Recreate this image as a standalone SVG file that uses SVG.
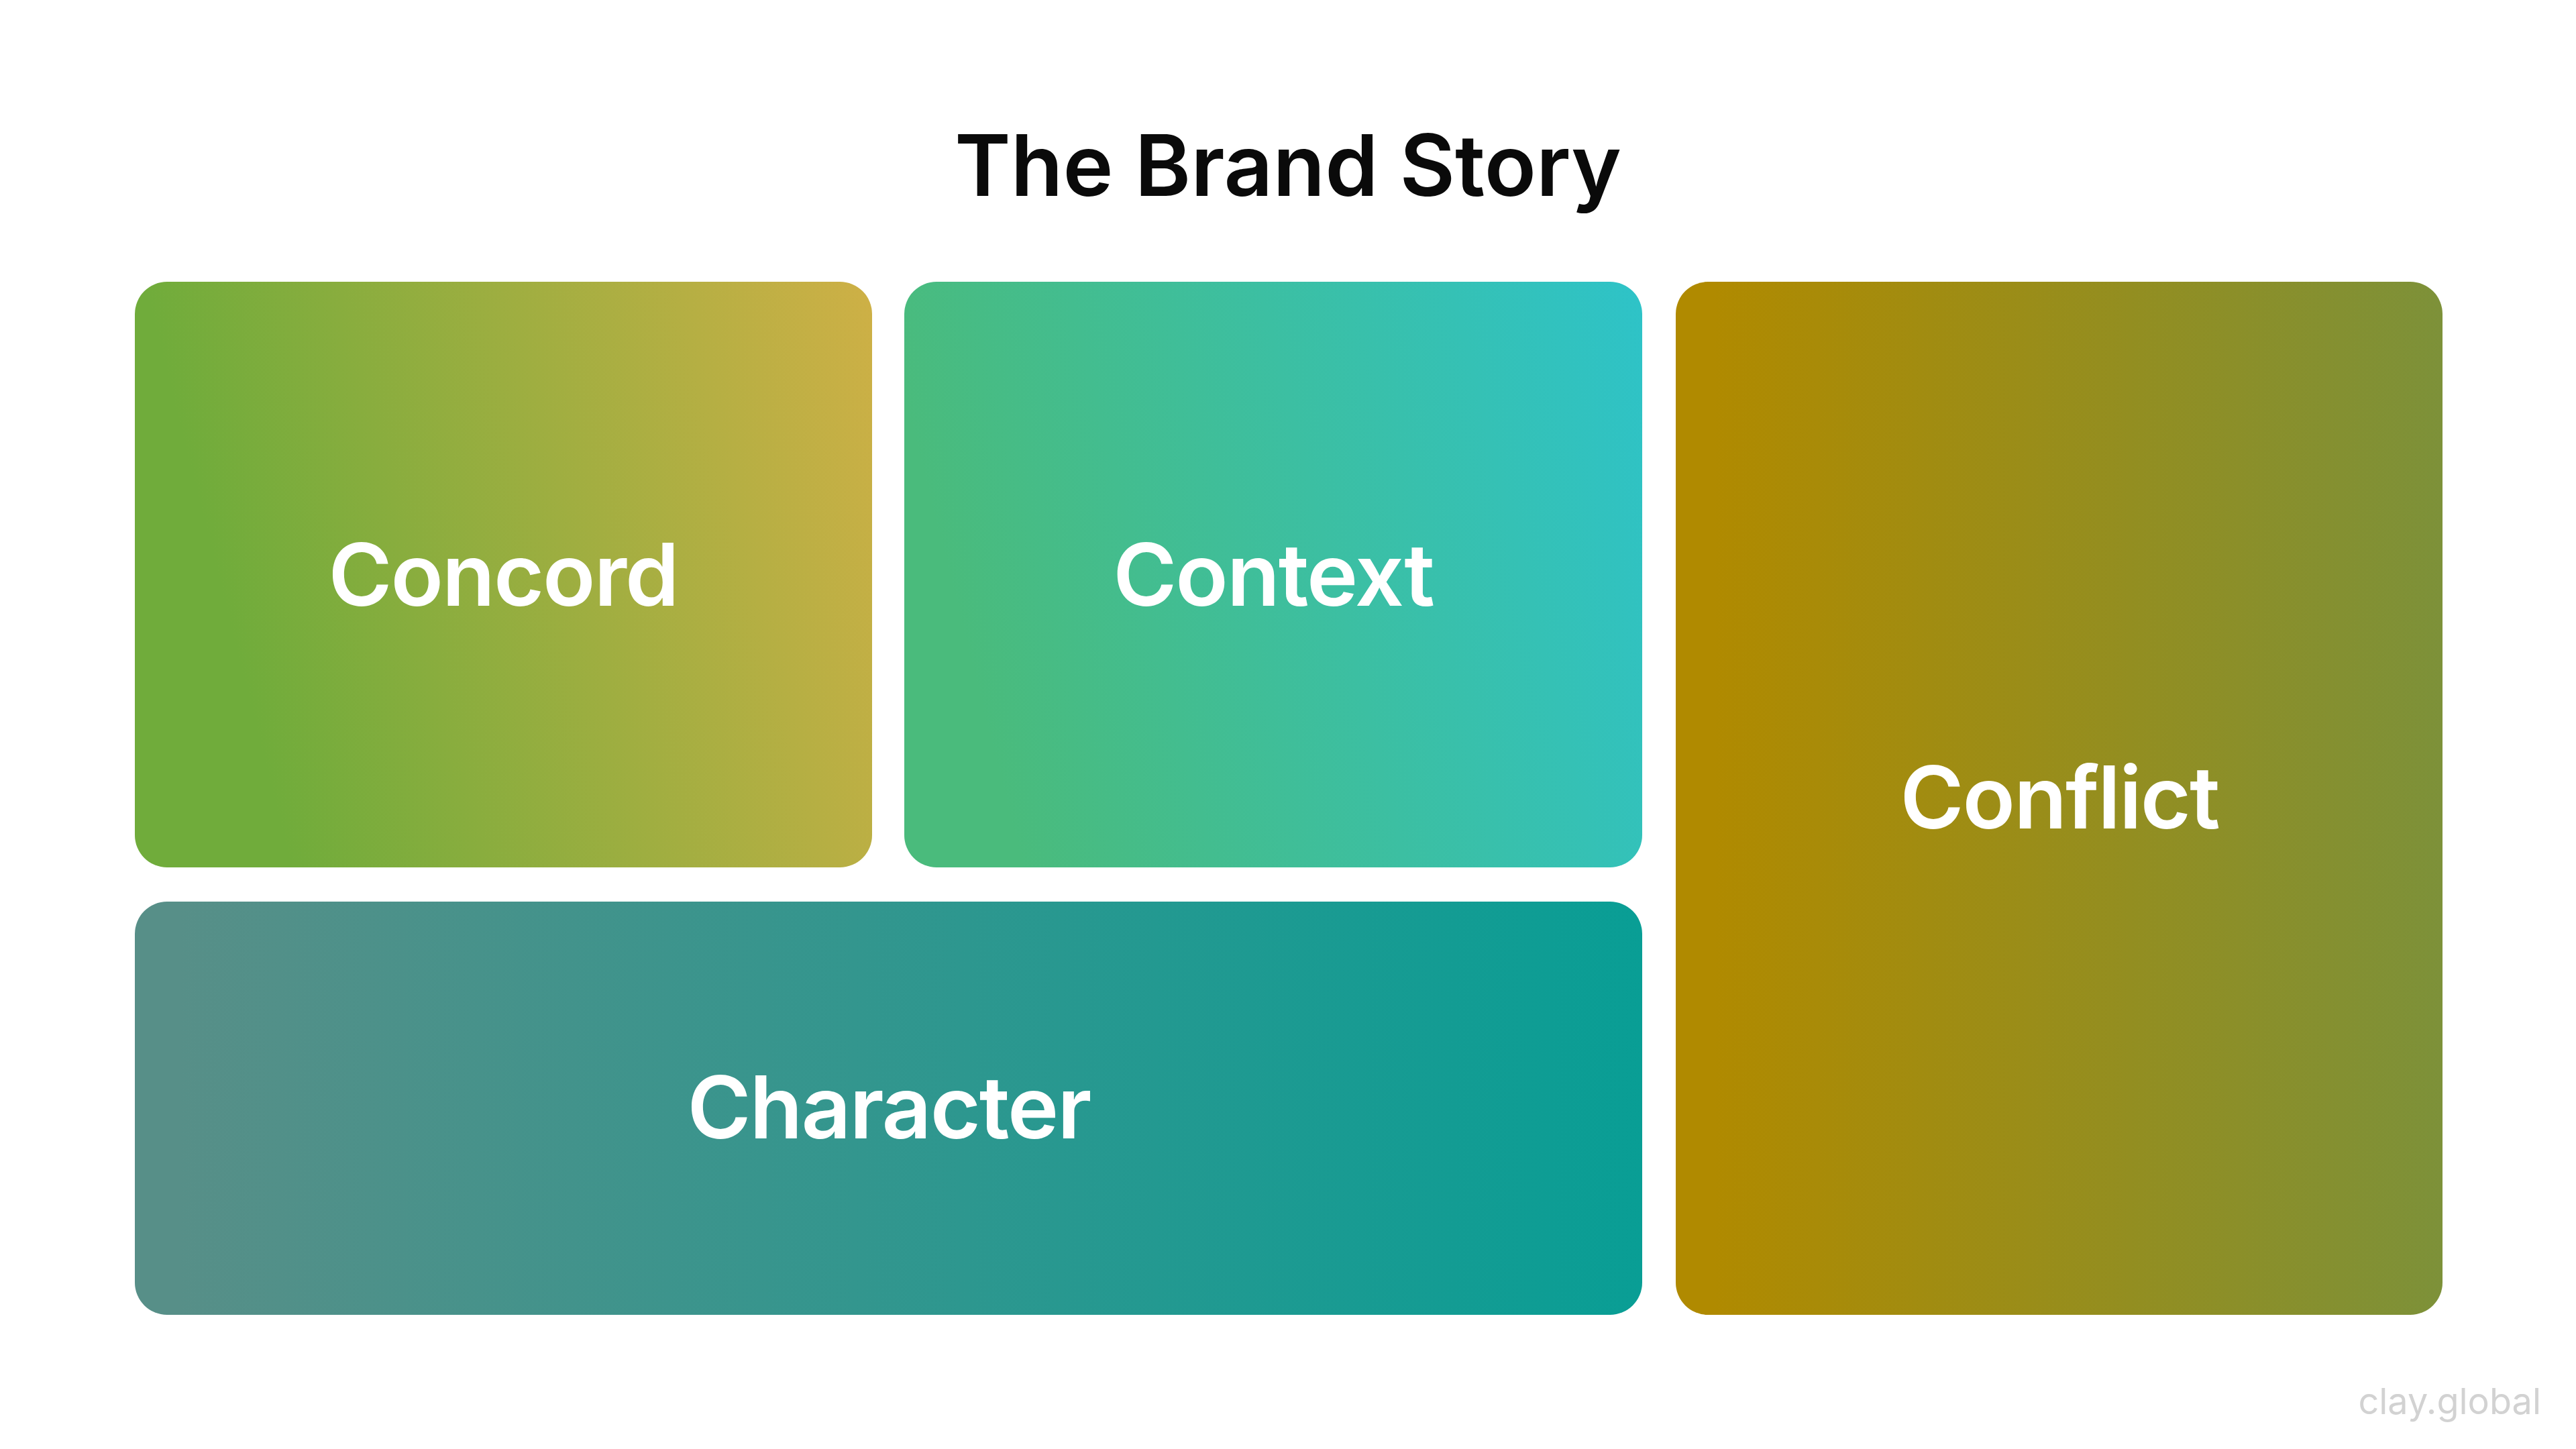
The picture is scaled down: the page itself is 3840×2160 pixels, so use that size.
<svg xmlns="http://www.w3.org/2000/svg" width="3840" height="2160" viewBox="0 0 3840 2160">
  <defs>
    <linearGradient id="gConcord" x1="0" y1="0.2" x2="1" y2="0">
      <stop offset="0.05" stop-color="#70ac3b"/>
      <stop offset="1" stop-color="#ceb046"/>
    </linearGradient>
    <linearGradient id="gContext" x1="0" y1="0.2" x2="1" y2="0">
      <stop offset="0" stop-color="#4abb7c"/>
      <stop offset="1" stop-color="#2ec3c8"/>
    </linearGradient>
    <linearGradient id="gCharacter" x1="0" y1="0" x2="1" y2="0">
      <stop offset="0.03" stop-color="#578f88"/>
      <stop offset="1" stop-color="#099e95"/>
    </linearGradient>
    <linearGradient id="gConflict" x1="0" y1="0" x2="1" y2="0">
      <stop offset="0.05" stop-color="#b08a00"/>
      <stop offset="1" stop-color="#7d9139"/>
    </linearGradient>
  </defs>
  <style>
    .label { font-family: Inter, "Noto Sans", "Liberation Sans", sans-serif; font-weight: 600; font-size: 129px; letter-spacing: -2px; fill: #ffffff; text-anchor: middle; }
    .title { font-family: Inter, "Noto Sans", "Liberation Sans", sans-serif; font-weight: 600; font-size: 127px; fill: #0a0a0a; text-anchor: middle; }
    .mark { font-family: Inter, "Noto Sans", "Liberation Sans", sans-serif; font-weight: 400; font-size: 54px; fill: #d2d2d2; text-anchor: end; }
  </style>
  <rect x="0" y="0" width="3840" height="2160" fill="#ffffff"/>
  <text class="title" x="1920" y="292">The Brand Story</text>
  <g id="concord">
    <rect x="201" y="420" width="1099" height="873" rx="48" fill="url(#gConcord)"/>
    <text class="label" x="750" y="903">Concord</text>
  </g>
  <g id="context">
    <rect x="1348" y="420" width="1100" height="873" rx="48" fill="url(#gContext)"/>
    <text class="label" x="1898" y="903">Context</text>
  </g>
  <g id="character">
    <rect x="201" y="1344" width="2247" height="616" rx="48" fill="url(#gCharacter)"/>
    <text class="label" x="1325" y="1697">Character</text>
  </g>
  <g id="conflict">
    <rect x="2498" y="420" width="1143" height="1540" rx="48" fill="url(#gConflict)"/>
    <text class="label" x="3070" y="1235">Conflict</text>
  </g>
  <g id="connectors"/>
  <text class="mark" x="3788" y="2108">clay.global</text>
</svg>
